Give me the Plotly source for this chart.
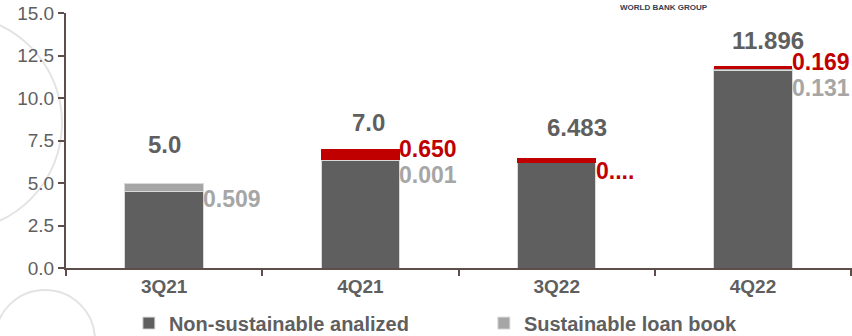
import plotly.graph_objects as go

quarters = ["3Q21", "4Q21", "3Q22", "4Q22"]
non_sustainable = [4.491, 6.349, 6.183, 11.596]
sustainable = [0.509, 0.001, 0.0, 0.131]
red_part = [0.0, 0.650, 0.300, 0.169]
totals = [5.0, 7.0, 6.483, 11.896]
total_text = ["5.0", "7.0", "6.483", "11.896"]
sust_text = ["0.509", "0.001", "", "0.131"]
red_text = ["", "0.650", "0....", "0.169"]

DARK = "#5f5f5f"
LIGHT = "#a6a6a6"
RED = "#c00000"
AXIS = "#5e4e4b"
FONT = "Arial, Liberation Sans, sans-serif"

fig = go.Figure()
fig.add_trace(go.Bar(x=quarters, y=non_sustainable, name="Non-sustainable analized",
                     marker=dict(color=DARK, line=dict(color="#d9d9d9", width=1))))
fig.add_trace(go.Bar(x=quarters, y=sustainable, name="Sustainable loan book",
                     marker=dict(color=LIGHT, line=dict(color="#d9d9d9", width=1))))
fig.add_trace(go.Bar(x=quarters, y=red_part, name="Sustainable analized", showlegend=False,
                     marker=dict(color=RED, line=dict(color=RED, width=0))))

# label offsets (pixels), manual placement like the original
total_dx = [0, 8, 20, 15]
total_dy = [39, 27, 30, 25]
sust_dy = [-16, -26, 0, -22]
red_dy = [0, 0, -13, 4]

ann = []
for i, q in enumerate(quarters):
    ann.append(dict(x=q, y=totals[i], text=total_text[i], showarrow=False,
                    xshift=total_dx[i], yshift=total_dy[i],
                    font=dict(size=24, color=DARK, family=FONT, weight="bold")))
    top = non_sustainable[i] + sustainable[i] + red_part[i]
    if sust_text[i]:
        ann.append(dict(x=q, y=top, text=sust_text[i], showarrow=False, xanchor="left",
                        xshift=37, yshift=sust_dy[i],
                        font=dict(size=23, color=LIGHT, family=FONT, weight="bold")))
    if red_text[i]:
        ann.append(dict(x=q, y=top, text=red_text[i], showarrow=False, xanchor="left",
                        xshift=37, yshift=red_dy[i],
                        font=dict(size=23, color=RED, family=FONT, weight="bold")))

ann.append(dict(x=0.702, y=1.0235, xref="paper", yref="paper", xanchor="left", yanchor="middle",
                text="WORLD BANK GROUP", showarrow=False,
                font=dict(size=8, color="#2f3f55", family=FONT, weight="bold")))

fig.update_layout(
    barmode="stack",
    bargap=0.6,
    width=852, height=336,
    margin=dict(l=66, r=0, t=13, b=68, autoexpand=False),
    paper_bgcolor="white", plot_bgcolor="white",
    font=dict(family=FONT, color=DARK),
    showlegend=True,
    legend=dict(orientation="h", x=0.08, xanchor="left", y=-0.216, yanchor="middle",
                font=dict(size=20, color=DARK, family=FONT, weight="bold"),
                itemwidth=30, entrywidth=310, traceorder="normal"),
    xaxis=dict(showline=True, linecolor=AXIS, linewidth=2, ticks="outside",
               tickson="boundaries", ticklen=6, tickcolor=AXIS, tickwidth=2,
               tickfont=dict(size=19, color=DARK, family=FONT, weight="bold"),
               showgrid=False, automargin=False),
    yaxis=dict(range=[0, 15], dtick=2.5, tickformat=".1f", showline=True, linecolor=AXIS,
               linewidth=2, ticks="outside", ticklen=6, tickcolor=AXIS, tickwidth=2,
               tickfont=dict(size=19, color=DARK, family=FONT), showgrid=False,
               zeroline=False, automargin=False),
    annotations=ann,
    shapes=[
        dict(type="circle", xref="paper", yref="paper", xsizemode="pixel", ysizemode="pixel",
             xanchor=0, yanchor=0, x0=-220, x1=-4, y0=37, y1=253,
             line=dict(color="#e3e3e3", width=2), layer="below"),
        dict(type="circle", xref="paper", yref="paper", xsizemode="pixel", ysizemode="pixel",
             xanchor=0, yanchor=0, x0=-71, x1=29, y0=-122, y1=-22,
             line=dict(color="#e3e3e3", width=2), layer="below"),
    ],
)

# drop the default body margin so the figure sits at the page corner
fig.write_html("out.html", config={"displayModeBar": False},
               post_script="document.body.style.margin='0';")
